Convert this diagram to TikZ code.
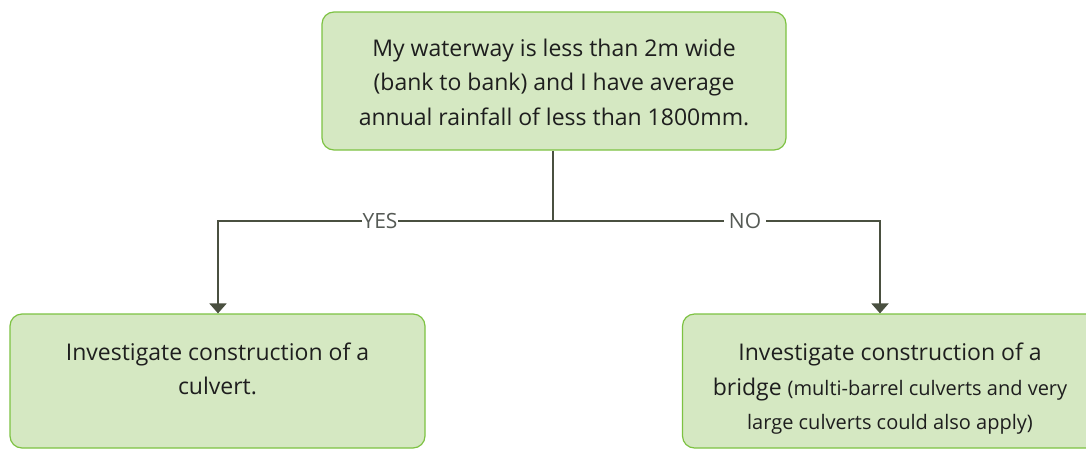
\documentclass[tikz,border=0pt]{standalone}
\usepackage{fontspec}
\setmainfont{Open Sans}
\usetikzlibrary{arrows.meta}
\definecolor{boxfill}{HTML}{D5E8C2}
\definecolor{boxline}{HTML}{7DC242}
\definecolor{conn}{HTML}{4A5040}
\definecolor{txtc}{HTML}{1E1E1E}
\definecolor{lblc}{HTML}{555A55}
\tikzset{
  box/.style={draw=boxline, line width=1.2pt, fill=boxfill, rounded corners=12pt, inner sep=0pt},
  txt/.style={text=txtc, align=center, font=\fontsize{23}{34.5}\selectfont, inner sep=0pt},
  conline/.style={draw=conn, line width=2pt},
  arr/.style={conline, -{Triangle[width=17pt,length=10pt]}},
  lbl/.style={text=lblc, font=\fontsize{21}{24}\selectfont, fill=white, inner sep=1pt}
}
\begin{document}
\begin{tikzpicture}[x=1pt,y=-1pt]
\useasboundingbox (0,0) rectangle (1086,450);
\node[box, minimum width=464pt, minimum height=138pt] (top) at (554,81) {};
\node[txt, anchor=center] (toptxt) at (554,82) {My waterway is less than 2m wide\\(bank to bank) and I have average\\annual rainfall of less than 1800mm.};
\node[box, minimum width=415pt, minimum height=134pt] (yes) at (217.5,381) {};
\node[txt, anchor=center] (yestxt) at (217.5,369) {Investigate construction of a\\culvert.};
\node[box, minimum width=415pt, minimum height=134pt] (no) at (890,381) {};
\node[txt, anchor=north] (notxt) at (890,343) {Investigate construction of a\\bridge {\fontsize{20}{34.5}\selectfont(multi-barrel culverts and very}\\{\fontsize{20}{34.5}\selectfont large culverts could also apply)}};
\coordinate (j) at (553,221);
\coordinate (jl) at (218,221);
\coordinate (jr) at (880,221);
\draw[conline] (top.south -| j) -- (j);
\draw[arr] (j) -- (jl) -- (yes.north -| jl);
\draw[arr] (j) -- (jr) -- (no.north -| jr);
\node[lbl] (yeslbl) at (380,221) {YES};
\node[lbl] (nolbl) at (745,221) {\,NO\,};
\end{tikzpicture}
\end{document}
